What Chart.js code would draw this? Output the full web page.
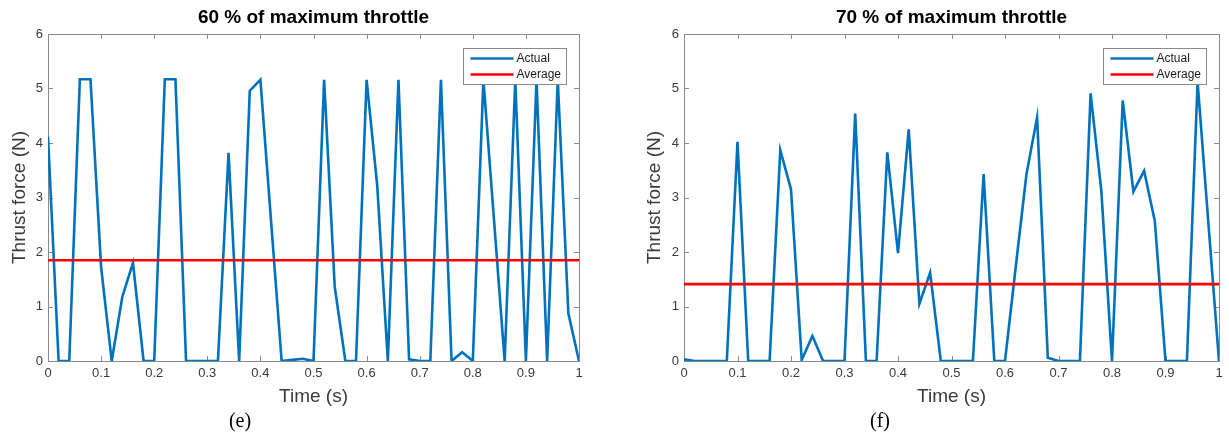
<!DOCTYPE html>
<html><head><meta charset="utf-8">
<script src="https://cdn.jsdelivr.net/npm/chart.js@4"></script>
<style>
html,body{margin:0;padding:0;background:#fff}
body{width:1229px;height:437px;overflow:hidden;position:relative}
canvas{position:absolute;top:0}
.lab{position:absolute;font-family:"Liberation Serif","DejaVu Serif",serif;font-size:20px;color:#000;transform:translate(-50%,-50%);white-space:nowrap}
</style></head><body>
<canvas id="c1" width="614" height="437" style="left:0"></canvas>
<canvas id="c2" width="615" height="437" style="left:614px"></canvas>
<div class="lab" style="left:240px;top:420px">(e)</div>
<div class="lab" style="left:880px;top:420px">(f)</div>
<script>
// ---- data ----
const times = [0,0.02,0.04,0.06,0.08,0.10,0.12,0.14,0.16,0.18,0.20,0.22,0.24,0.26,0.28,0.30,0.32,0.34,0.36,0.38,0.40,0.42,0.44,0.46,0.48,0.50,0.52,0.54,0.56,0.58,0.60,0.62,0.64,0.66,0.68,0.70,0.72,0.74,0.76,0.78,0.80,0.82,0.84,0.86,0.88,0.90,0.92,0.94,0.96,0.98,1.00];
const actual60 = [4.12,0,0,5.17,5.17,1.72,0,1.18,1.80,0,0,5.17,5.17,0,0,0,0,3.82,0,4.96,5.16,2.58,0,0.02,0.04,0,5.16,1.36,0,0,5.16,3.22,0,5.16,0.03,0,0,5.16,0,0.16,0,5.16,2.58,0,5.16,0,5.16,0,5.16,0.87,0];
const actual70 = [0.03,0,0,0,0,4.02,0,0,0,3.87,3.15,0.02,0.46,0,0,0,4.54,0,0,3.83,1.98,4.25,1.05,1.62,0,0,0,0,3.43,0,0,1.72,3.42,4.47,0.06,0,0,0,4.91,3.13,0,4.78,3.11,3.49,2.57,0,0,0,5.12,2.55,0];
const average60 = 1.85;
const average70 = 1.41;
const xTickLabels = ['0','0.1','0.2','0.3','0.4','0.5','0.6','0.7','0.8','0.9','1'];
const yTickLabels = ['0','1','2','3','4','5','6'];
const seriesNames = ['Actual','Average'];
const titles = ['60 % of maximum throttle','70 % of maximum throttle'];
const xTitle = 'Time (s)';
const yTitle = 'Thrust force (N)';

const SANS = '"Liberation Sans", Arial, sans-serif';
const AXC = '#8a8a8a';
const TXC = '#3a3a3a';

const framePlugin = {
  id: 'frame',
  beforeDatasetsDraw(chart) {
    const {ctx, chartArea: a, scales} = chart;
    ctx.save();
    ctx.strokeStyle = AXC;
    ctx.lineWidth = 1;
    ctx.strokeRect(Math.round(a.left)+0.5, Math.round(a.top)+0.5, Math.round(a.right-a.left)-1+1, Math.round(a.bottom-a.top));
    const L = 5;
    ctx.beginPath();
    scales.x.ticks.forEach(t => {
      const px = Math.round(scales.x.getPixelForValue(t.value)) + 0.5;
      ctx.moveTo(px, a.bottom); ctx.lineTo(px, a.bottom - L);
      ctx.moveTo(px, a.top); ctx.lineTo(px, a.top + L);
    });
    scales.y.ticks.forEach(t => {
      const py = Math.round(scales.y.getPixelForValue(t.value)) + 0.5;
      ctx.moveTo(a.left, py); ctx.lineTo(a.left + L, py);
      ctx.moveTo(a.right, py); ctx.lineTo(a.right - L, py);
    });
    ctx.stroke();
    ctx.restore();
  }
};

const legendPlugin = {
  id: 'boxLegend',
  afterDraw(chart) {
    const {ctx, chartArea: a} = chart;
    const ds = chart.data.datasets;
    ctx.save();
    ctx.font = '12px ' + SANS;
    let tw = 0;
    ds.forEach(d => { tw = Math.max(tw, ctx.measureText(d.label).width); });
    const w = Math.round(53 + tw + 6), h = 36;
    const x0 = Math.round(a.right - 13 - w) + 0.5, y0 = Math.round(a.top + 14) + 0.5;
    ctx.fillStyle = '#fff';
    ctx.fillRect(x0, y0, w, h);
    ctx.strokeStyle = AXC; ctx.lineWidth = 1;
    ctx.strokeRect(x0, y0, w, h);
    ds.forEach((d, i) => {
      const yy = y0 + 10 + i * 16;
      ctx.strokeStyle = d.borderColor; ctx.lineWidth = 2.6;
      ctx.beginPath(); ctx.moveTo(x0 + 7, yy); ctx.lineTo(x0 + 50, yy); ctx.stroke();
      ctx.fillStyle = '#1a1a1a'; ctx.textBaseline = 'middle'; ctx.textAlign = 'left';
      ctx.fillText(d.label, x0 + 53, yy);
    });
    ctx.restore();
  }
};

function makeChart(id, values, avg, title, yWidth, padRight, yTitlePad) {
  const actualPts = times.map((t, i) => ({x: t, y: values[i]}));
  const avgPts = [{x: times[0], y: avg}, {x: times[times.length - 1], y: avg}];
  return new Chart(document.getElementById(id), {
    type: 'line',
    data: {
      datasets: [
        {label: seriesNames[0], data: actualPts, borderColor: '#0072BD', borderWidth: 2.6, pointRadius: 0, tension: 0, order: 1, fill: false},
        {label: seriesNames[1], data: avgPts, borderColor: '#FF0000', borderWidth: 2.6, pointRadius: 0, tension: 0, order: 0, fill: false}
      ]
    },
    options: {
      responsive: false,
      animation: false,
      devicePixelRatio: 1,
      layout: {padding: {left: 0, right: padRight, top: 0, bottom: 0}},
      plugins: {
        legend: {display: false},
        tooltip: {enabled: false},
        title: {display: true, text: title, fullSize: false, color: '#000',
          font: {family: SANS, size: 19, weight: 'bold'}, padding: {top: 6, bottom: 5.2}}
      },
      scales: {
        x: {
          type: 'linear', position: 'bottom', min: 0, max: 1,
          grid: {display: false, drawTicks: false}, border: {display: false},
          ticks: {stepSize: 0.1, autoSkip: false, maxRotation: 0, padding: 5, color: TXC,
            font: {family: SANS, size: 13}, callback: (v, i) => xTickLabels[i]},
          title: {display: true, text: xTitle, color: TXC, font: {family: SANS, size: 19}, padding: {top: 0, bottom: 29}},
          afterFit: s => { s.height = 76; }
        },
        y: {
          type: 'linear', position: 'left', min: 0, max: 6,
          grid: {display: false, drawTicks: false}, border: {display: false},
          ticks: {stepSize: 1, padding: 5, color: TXC, font: {family: SANS, size: 13}, callback: (v, i) => yTickLabels[i]},
          title: {display: true, text: yTitle, color: TXC, font: {family: SANS, size: 19}, padding: {top: yTitlePad, bottom: 0}},
          afterFit: s => { s.width = yWidth; }
        }
      }
    },
    plugins: [framePlugin, legendPlugin]
  });
}

makeChart('c1', actual60, average60, titles[0], 48, 35, 8);
makeChart('c2', actual70, average70, titles[1], 70, 10, 29.6);
</script>
</body></html>
